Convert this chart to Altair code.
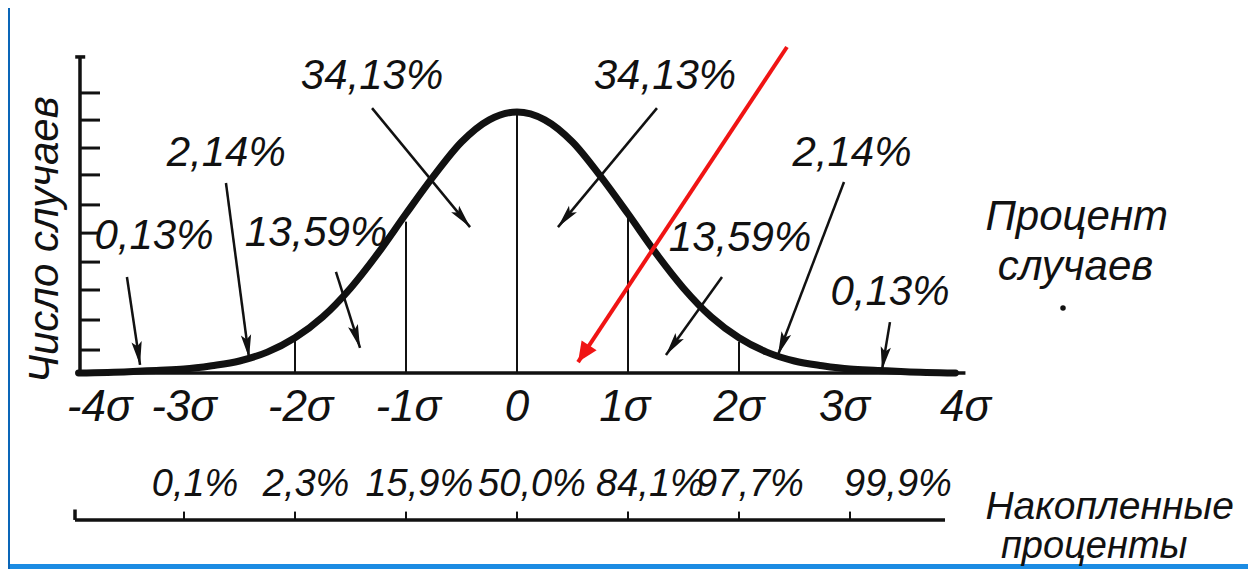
import math
import altair as alt
import pandas as pd

# ---------------- data ----------------
# normal curve (relative height, peak = 1) at positions in sigma units
curve_s = [-3.95, -3.5, -3.25, -3.0, -2.75, -2.5, -2.25, -2.0, -1.75, -1.5, -1.25, -1.0,
           -0.75, -0.5, -0.25, 0.0, 0.25, 0.5, 0.75, 1.0, 1.25, 1.5, 1.75, 2.0, 2.25,
           2.5, 2.75, 3.0, 3.25, 3.5, 3.95]
curve_v = [0.0, 0.005, 0.01, 0.015, 0.028, 0.046, 0.08, 0.135, 0.215, 0.325, 0.46, 0.61,
           0.755, 0.885, 0.97, 1.0, 0.97, 0.885, 0.755, 0.61, 0.46, 0.325, 0.215, 0.135, 0.08,
           0.046, 0.028, 0.015, 0.01, 0.005, 0.0]

sigma_ticks = [-4, -3, -2, -1, 0, 1, 2, 3, 4]
sigma_labels = ["-4σ", "-3σ", "-2σ", "-1σ", "0", "1σ", "2σ", "3σ", "4σ"]

region_pct = ["0,13%", "2,14%", "13,59%", "34,13%", "34,13%", "13,59%", "2,14%", "0,13%"]

divider_s = [-2, -1, 0, 1, 2]
divider_top = [0.13, 0.58, 1.0, 0.6, 0.12]

cum_ticks = [-3, -2, -1, 0, 1, 2, 3]
cum_labels = ["0,1%", "2,3%", "15,9%", "50,0%", "84,1%", "97,7%", "99,9%"]

count_ticks = [0.088, 0.203, 0.318, 0.425, 0.536, 0.644, 0.759, 0.862, 0.969, 1.073]

# ---------------- layout (positions in data units) ----------------
W, H = 1240, 561
X0, X1 = -4.5856, 6.5856
Y0, Y1 = -0.751, 1.3985
PXS = W / (X1 - X0)
PXV = H / (Y1 - Y0)

FONT = "Liberation Sans"
INK = "#111111"

sigma_label_x = [-3.76, -3.0, -1.95, -0.98, 0.0, 0.97, 2.0, 2.95, 4.04]
sigma_label_y = -0.134
cum_label_x = [-2.90, -1.90, -0.88, 0.135, 1.198, 2.099, 3.432]
cum_label_y = -0.429
cum_line_y = -0.563

region_label_xy = [(-3.27, 0.525), (-2.62, 0.843), (-1.81, 0.536), (-1.306, 1.138),
                   (1.333, 1.138), (2.009, 0.517), (3.018, 0.843), (3.36, 0.31)]
arrow_tail = [(-3.514, 0.368), (-2.622, 0.728), (-1.631, 0.387), (-1.306, 1.015),
              (1.261, 1.015), (1.847, 0.368), (2.946, 0.732), (3.36, 0.195)]
arrow_tip = [(-3.396, 0.031), (-2.414, 0.057), (-1.414, 0.096), (-0.423, 0.559),
             (0.369, 0.559), (1.342, 0.069), (2.351, 0.069), (3.288, 0.011)]
red_tail = (2.432, 1.249)
red_tip = (0.550, 0.042)


def head_angle(t, h):
    dx = (h[0] - t[0]) * PXS
    dy = -(h[1] - t[1]) * PXV
    return (math.degrees(math.atan2(dx, -dy)) + 360.0) % 360.0


xs = alt.Scale(domain=[X0, X1], nice=False, zero=False)
ys = alt.Scale(domain=[Y0, Y1], nice=False, zero=False)


def X(f):
    return alt.X(f, type="quantitative", scale=xs, axis=None)


def Y(f):
    return alt.Y(f, type="quantitative", scale=ys, axis=None)


# ---------------- tables ----------------
curve_df = pd.DataFrame({"s": curve_s, "v": curve_v})
div_df = pd.DataFrame({"s": divider_s, "v0": [0.0] * len(divider_s), "v1": divider_top})
sig_df = pd.DataFrame({"s": sigma_label_x, "v": [sigma_label_y] * len(sigma_labels), "t": sigma_labels})
cum_df = pd.DataFrame({"s": cum_label_x, "v": [cum_label_y] * len(cum_labels), "t": cum_labels})
cum_tick_df = pd.DataFrame({"s": cum_ticks, "v0": [cum_line_y] * len(cum_ticks),
                            "v1": [cum_line_y + 0.032] * len(cum_ticks)})
reg_df = pd.DataFrame({"s": [p[0] for p in region_label_xy], "v": [p[1] for p in region_label_xy],
                       "t": region_pct})
arr_df = pd.DataFrame({"s": [p[0] for p in arrow_tail], "v": [p[1] for p in arrow_tail],
                       "s2": [p[0] for p in arrow_tip], "v2": [p[1] for p in arrow_tip],
                       "a": [head_angle(t, h) for t, h in zip(arrow_tail, arrow_tip)]})
red_df = pd.DataFrame({"s": [red_tail[0]], "v": [red_tail[1]], "s2": [red_tip[0]], "v2": [red_tip[1]],
                       "a": [head_angle(red_tail, red_tip)]})
cnt_df = pd.DataFrame({"s0": [-3.937] * len(count_ticks), "s1": [-3.757] * len(count_ticks),
                       "v": count_ticks})

# straight structural lines: y axis, baseline, cumulative line, its hook, axis cap
lines_df = pd.DataFrame({
    "s": [-3.937, -3.964, -3.982, -3.982, -3.98],
    "s2": [-3.937, 4.04, 3.856, -3.982, -3.89],
    "v": [0.0, 0.0, cum_line_y, cum_line_y, 1.211],
    "v2": [1.211, 0.0, cum_line_y, cum_line_y + 0.04, 1.211],
})

text_df = pd.DataFrame({
    "s": [4.22, 4.33, 4.22, 4.36],
    "v": [0.598, 0.406, -0.512, -0.668],
    "t": ["Процент", "случаев", "Накопленные", "проценты"],
    "fs": [42, 42, 39, 38],
})

curve = alt.Chart(curve_df).mark_line(color=INK, strokeWidth=7, interpolate="monotone",
                                      strokeCap="round").encode(x=X("s"), y=Y("v"))

dividers = alt.Chart(div_df).mark_rule(color=INK, strokeWidth=2).encode(
    x=X("s"), y=Y("v0"), y2="v1")

struct = alt.Chart(lines_df).mark_rule(color=INK, strokeWidth=3.5).encode(
    x=X("s"), x2="s2", y=Y("v"), y2="v2")

cnt = alt.Chart(cnt_df).mark_rule(color=INK, strokeWidth=3).encode(
    x=X("s0"), x2="s1", y=Y("v"))

cum_ticks_l = alt.Chart(cum_tick_df).mark_rule(color=INK, strokeWidth=2).encode(
    x=X("s"), y=Y("v0"), y2="v1")

sig_text = alt.Chart(sig_df).mark_text(font=FONT, fontSize=44, fontStyle="italic", color=INK,
                                       align="center", baseline="middle").encode(
    x=X("s"), y=Y("v"), text="t:N")

cum_text = alt.Chart(cum_df).mark_text(font=FONT, fontSize=38, fontStyle="italic", color=INK,
                                       align="center", baseline="middle").encode(
    x=X("s"), y=Y("v"), text="t:N")

reg_text = alt.Chart(reg_df).mark_text(font=FONT, fontSize=42, fontStyle="italic", color=INK,
                                       align="center", baseline="middle").encode(
    x=X("s"), y=Y("v"), text="t:N")

side_text = alt.Chart(text_df).mark_text(font=FONT, fontStyle="italic", color=INK,
                                         align="left", baseline="middle").encode(
    x=X("s"), y=Y("v"), text="t:N", size=alt.Size("fs:Q", scale=None, legend=None))

ytitle = alt.Chart(pd.DataFrame({"s": [-4.252], "v": [0.51], "t": ["Число случаев"]})).mark_text(
    font=FONT, fontSize=42, fontStyle="italic", color=INK, angle=270,
    align="center", baseline="middle").encode(x=X("s"), y=Y("v"), text="t:N")

dot = alt.Chart(pd.DataFrame({"s": [4.919], "v": [0.249]})).mark_point(
    filled=True, color=INK, size=30, opacity=1).encode(x=X("s"), y=Y("v"))

arr_lines = alt.Chart(arr_df).mark_rule(color=INK, strokeWidth=2.5).encode(
    x=X("s"), x2="s2", y=Y("v"), y2="v2")
arr_heads = alt.Chart(arr_df).mark_point(
    shape="M0,0L0.22,1L0,0.8L-0.22,1Z", filled=True, color=INK, size=2200, opacity=1).encode(
    x=X("s2"), y=Y("v2"), angle=alt.Angle("a:Q", scale=None))

red_line = alt.Chart(red_df).mark_rule(color="#f01414", strokeWidth=4).encode(
    x=X("s"), x2="s2", y=Y("v"), y2="v2")
red_head = alt.Chart(red_df).mark_point(
    shape="M0,0L0.45,1L-0.45,1Z", filled=True, color="#f01414", size=1600, opacity=1).encode(
    x=X("s2"), y=Y("v2"), angle=alt.Angle("a:Q", scale=None))

# blue frame remnants of the scanned picture
frame = alt.Chart(pd.DataFrame({"k": [0]})).mark_rect(color="#1c8ce3").encode(
    x=alt.value(0), x2=alt.value(W), y=alt.value(H - 5), y2=alt.value(H))
frame_left = alt.Chart(pd.DataFrame({"k": [0]})).mark_rect(color="#0a66b8").encode(
    x=alt.value(0), x2=alt.value(2), y=alt.value(0), y2=alt.value(H))

chart = alt.layer(
    frame, frame_left,
    dividers, struct, cnt, cum_ticks_l, curve,
    arr_lines, arr_heads,
    sig_text, cum_text, reg_text, side_text, ytitle, dot,
    red_line, red_head,
).properties(
    width=W, height=H, padding=0,
    autosize=alt.AutoSizeParams(type="none"),
    background="white",
).configure_view(stroke=None)

chart.save("out.html", embed_options={"renderer": "svg", "actions": False})
